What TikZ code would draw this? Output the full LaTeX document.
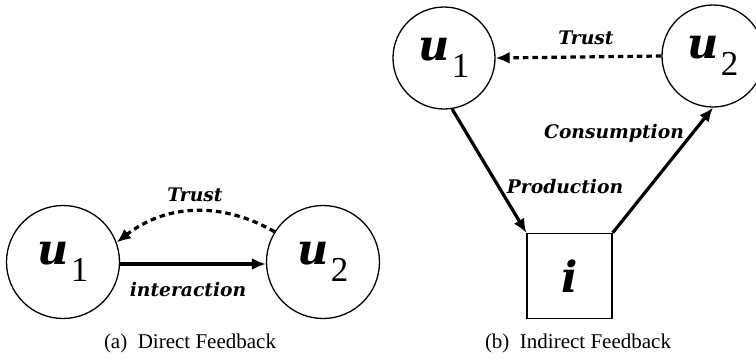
\documentclass[tikz,border=0pt]{standalone}
\usepackage{fontspec}
\newfontfamily\capfont{Liberation Serif}
\newfontfamily\labfont{DejaVu Serif}
\newfontfamily\subfont{Liberation Serif}
\usetikzlibrary{arrows.meta}
\newcommand{\usym}[1]{{\labfont\fontsize{43}{43}\selectfont\bfseries\itshape u}\kern2pt\raisebox{-17pt}{\subfont\fontsize{35}{35}\selectfont #1}}
\tikzset{
  user/.style={draw, circle, line width=1.3pt, inner sep=0pt},
  itembox/.style={draw, rectangle, line width=1.3pt, inner sep=0pt, minimum size=85pt},
  solidarrow/.style={line width=3.2pt, -{Latex[length=14pt,width=12pt]}},
  trustarrow/.style={line width=3.2pt, dash pattern=on 5.5pt off 4pt, -{Latex[length=14pt,width=12pt]}},
  elabel/.style={font=\labfont\fontsize{18.7}{18.7}\selectfont\bfseries\itshape, inner sep=0pt},
  caption/.style={font=\capfont\fontsize{21}{21}\selectfont, inner sep=0pt}
}
\begin{document}
\begin{tikzpicture}[x=1pt,y=1pt]
\useasboundingbox (0,0) rectangle (756,-360);
% (a) Direct feedback
\node[user, minimum size=113pt] (a1) at (63,-262) {\usym{1}};
\node[user, minimum size=113pt] (a2) at (323,-262) {\usym{2}};
\draw[solidarrow] (a1.-2) -- (a2.182);
\draw[trustarrow] (a2.148) to[out=150,in=38] (a1.20);
\node[elabel] (ta) at (195,-195) {Trust};
\node[elabel] (ia) at (188,-290) {interaction};
\node[caption] (ca) at (190,-343) {(a)\ \ Direct Feedback};
% (b) Indirect feedback
\node[user, minimum size=102pt] (b1) at (444,-58) {\usym{1}};
\node[user, minimum size=102pt] (b2) at (713,-56) {\usym{2}};
\node[itembox] (bi) at (569.5,-276) {\labfont\fontsize{43}{43}\selectfont\bfseries\itshape i};
\draw[trustarrow] (b2.west) -- (b1.east);
\draw[solidarrow] (b1.-81) -- (bi.north west);
\draw[solidarrow] (bi.north east) -- (b2.-90);
\node[elabel] (tb) at (586,-38) {Trust};
\node[elabel] (cb) at (614,-133) {Consumption};
\node[elabel] (pb) at (565,-187) {Production};
\node[caption] (cbc) at (578,-343) {(b)\ \ Indirect Feedback};
\end{tikzpicture}
\end{document}
